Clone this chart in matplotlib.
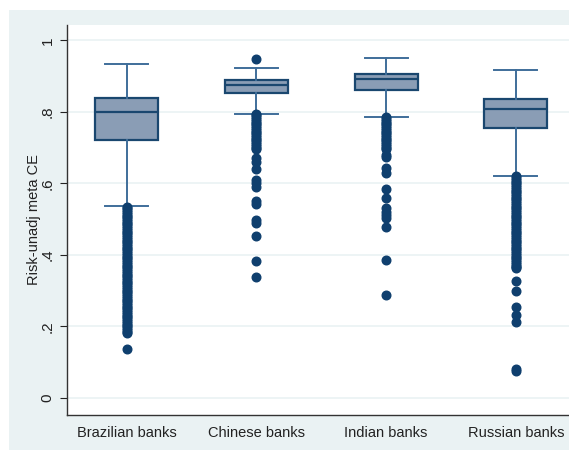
import matplotlib

matplotlib.use("Agg")
import matplotlib.pyplot as plt  # noqa: E402
from matplotlib.patches import Rectangle  # noqa: E402

# box summaries
groups = ["Brazilian banks", "Chinese banks", "Indian banks", "Russian banks"]
whisker_lo = [0.537, 0.795, 0.787, 0.621]
q1 = [0.720, 0.854, 0.860, 0.754]
median = [0.801, 0.875, 0.893, 0.809]
q3 = [0.840, 0.888, 0.907, 0.837]
whisker_hi = [0.933, 0.924, 0.950, 0.917]

brazil_out = [0.535, 0.53, 0.525, 0.52, 0.515, 0.51, 0.505, 0.50, 0.495, 0.49,
              0.485, 0.48, 0.475, 0.47, 0.465, 0.46, 0.455, 0.45, 0.445, 0.44,
              0.435, 0.43, 0.425, 0.42, 0.415, 0.41, 0.405, 0.40, 0.395, 0.39,
              0.385, 0.38, 0.375, 0.37, 0.365, 0.36, 0.355, 0.35, 0.345, 0.34,
              0.335, 0.33, 0.325, 0.32, 0.315, 0.31, 0.305, 0.30, 0.295, 0.29,
              0.285, 0.28, 0.275, 0.27, 0.265, 0.26, 0.255, 0.25, 0.245, 0.24,
              0.235, 0.23, 0.225, 0.22, 0.215, 0.21, 0.205, 0.20, 0.195, 0.19,
              0.185, 0.18, 0.137]
china_out = [0.948, 0.795, 0.79, 0.785, 0.78, 0.775, 0.77, 0.765, 0.76, 0.755,
             0.75, 0.745, 0.74, 0.735, 0.73, 0.725, 0.72, 0.715, 0.71, 0.705,
             0.70, 0.695, 0.670, 0.661, 0.640, 0.610, 0.600, 0.591, 0.551,
             0.542, 0.498, 0.490, 0.454, 0.384, 0.338]
india_out = [0.785, 0.78, 0.775, 0.77, 0.765, 0.76, 0.755, 0.75, 0.745, 0.74,
             0.735, 0.73, 0.725, 0.72, 0.715, 0.71, 0.705, 0.70, 0.695, 0.680,
             0.675, 0.642, 0.628, 0.583, 0.558, 0.530, 0.521, 0.512, 0.503,
             0.479, 0.386, 0.289]
russia_out = [0.62, 0.615, 0.61, 0.605, 0.60, 0.595, 0.59, 0.585, 0.58, 0.575,
              0.57, 0.565, 0.56, 0.555, 0.55, 0.545, 0.54, 0.535, 0.53, 0.525,
              0.52, 0.515, 0.51, 0.505, 0.50, 0.495, 0.49, 0.485, 0.48, 0.475,
              0.47, 0.465, 0.46, 0.455, 0.45, 0.445, 0.44, 0.435, 0.43, 0.425,
              0.42, 0.415, 0.41, 0.405, 0.40, 0.395, 0.39, 0.385, 0.38, 0.375,
              0.37, 0.366, 0.362, 0.328, 0.299, 0.255, 0.232, 0.213, 0.080,
              0.074]
outliers = [brazil_out, china_out, india_out, russia_out]

yticks = [0, 0.2, 0.4, 0.6, 0.8, 1.0]
ytick_labels = ["0", ".2", ".4", ".6", ".8", "1"]

NAVY = "#1a476f"
FILL = "#8a9db5"
WHISK = "#3f6e9a"
BG = "#eaf2f3"

plt.rcParams["font.family"] = ["Liberation Sans", "DejaVu Sans"]

W, H = 569, 450
fig = plt.figure(figsize=(W / 100, H / 100), dpi=100)
fig.patches.append(Rectangle((9 / W, 0), 1 - 9 / W, 1 - 10 / H, transform=fig.transFigure,
                             facecolor=BG, edgecolor="none", zorder=-10))

ax = fig.add_axes([67 / W, 35 / H, (W - 67) / W, 390 / H])
ax.set_facecolor("white")

stats = []
for i, name in enumerate(groups):
    stats.append({
        "label": name,
        "whislo": whisker_lo[i],
        "q1": q1[i],
        "med": median[i],
        "q3": q3[i],
        "whishi": whisker_hi[i],
        "fliers": outliers[i],
    })

ax.bxp(stats, positions=[1, 2, 3, 4], widths=0.485, capwidths=0.33,
       patch_artist=True,
       boxprops=dict(facecolor=FILL, edgecolor=NAVY, linewidth=1.6),
       medianprops=dict(color=NAVY, linewidth=1.6),
       whiskerprops=dict(color=WHISK, linewidth=1.4),
       capprops=dict(color=WHISK, linewidth=1.4),
       flierprops=dict(marker="o", markerfacecolor="#0f3f6e", markeredgecolor="#0f3f6e",
                       markersize=6.2, linestyle="none"))

ax.set_xlim(0.54, 4.41)
ax.set_ylim(-0.048, 1.043)
ax.set_yticks(yticks)
ax.set_yticklabels(ytick_labels, rotation=90, va="center", fontsize=11)
ax.tick_params(axis="x", length=0, labelsize=10.5, pad=8, colors="#222222")
ax.tick_params(axis="y", length=5, width=0.8, pad=4, colors="#222222")
ax.yaxis.grid(True, color=BG, linewidth=1.2)
ax.set_axisbelow(True)

for side in ["top", "right"]:
    ax.spines[side].set_visible(False)
ax.spines["left"].set_color("#333333")
ax.spines["bottom"].set_color("#333333")
ax.spines["left"].set_linewidth(1.0)
ax.spines["bottom"].set_linewidth(1.0)

ax.set_ylabel("Risk-unadj meta CE", fontsize=10.5, color="#222222")
ax.yaxis.set_label_coords(-0.052, 0.5)

fig.savefig("out.png", dpi=100)
